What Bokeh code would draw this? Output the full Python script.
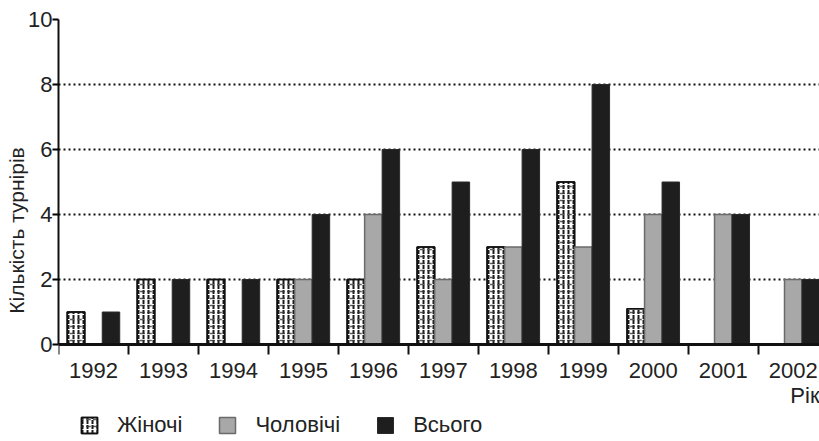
from bokeh.plotting import figure
from bokeh.models import FixedTicker, Legend, LegendItem, Label, ColumnDataSource, Range1d
from bokeh.transform import dodge
from bokeh.embed import file_html
from bokeh.resources import INLINE

years = ["1992", "1993", "1994", "1995", "1996", "1997", "1998", "1999", "2000", "2001", "2002"]
women = [1, 2, 2, 2, 2, 3, 3, 5, 1.1, 0, 0]
men = [0, 0, 0, 2, 4, 2, 3, 3, 4, 4, 2]
total = [1, 2, 2, 4, 6, 5, 6, 8, 5, 4, 2]
y_ticks = [0, 2, 4, 6, 8, 10]
series_names = ["Жіночі", "Чоловічі", "Всього"]
y_title = "Кількість турнірів"
x_title = "Рік"

idx = list(range(len(years)))
src = ColumnDataSource(dict(x=idx, women=women, men=men, total=total))

FONT = "Liberation Sans"
FS = "22px"
BW = 0.25
H = 441
TOP = 19
ZERO_PX = 344          # pixel row of y=0 inside the figure
unit = (ZERO_PX - TOP) / (y_ticks[-1] - y_ticks[0])
y_low = -(H - ZERO_PX) / unit

p = figure(width=819, height=H,
           x_range=Range1d(-0.5, len(years) - 1 + 1.5 * BW),
           y_range=Range1d(y_low, y_ticks[-1]),
           output_backend="svg", toolbar_location=None,
           min_border_left=58, min_border_top=TOP, min_border_right=0,
           min_border_bottom=0)
p.outline_line_color = None
p.background_fill_color = "white"

w1 = p.vbar(x=dodge("x", -BW, range=p.x_range), top="women", width=BW, source=src,
            fill_color="white", line_color="#111111", line_width=1.5,
            hatch_pattern="vertical_dash", hatch_color="#1a1a1a", hatch_scale=5, hatch_weight=2)
w2 = p.vbar(x=dodge("x", -BW, range=p.x_range), top="women", width=BW, source=src,
            fill_alpha=0, line_color="#111111", line_width=1.5,
            hatch_pattern="horizontal_dash", hatch_color="#333333", hatch_scale=7, hatch_weight=1.5,
            hatch_alpha=0.8)
m = p.vbar(x=dodge("x", 0, range=p.x_range), top="men", width=BW, source=src,
           fill_color="#a8a8a8", line_color="#6a6a6a", line_width=1.5)
t = p.vbar(x=dodge("x", BW, range=p.x_range), top="total", width=BW, source=src,
           fill_color="#1e1e1e", line_color="#2a2a2a", line_width=1)

# y axis
ya = p.yaxis[0]
ya.ticker = FixedTicker(ticks=y_ticks)
ya.bounds = (y_ticks[0], y_ticks[-1])
ya.axis_line_width = 2
ya.axis_line_color = "#111111"
ya.major_tick_out = 6
ya.major_tick_in = 0
ya.major_tick_line_width = 2
ya.minor_tick_line_color = None
ya.major_label_text_font = FONT
ya.major_label_text_font_size = FS
ya.major_label_text_color = "#222222"
ya.major_label_standoff = 0
ya.axis_label = y_title
ya.axis_label_text_font = FONT
ya.axis_label_text_font_size = "21px"
ya.axis_label_text_font_style = "normal"
ya.axis_label_text_color = "#222222"
ya.axis_label_standoff = -3

# x axis fixed at y = 0
xa = p.xaxis[0]
xa.fixed_location = 0
xa.ticker = FixedTicker(ticks=idx, minor_ticks=[i - 0.5 for i in idx])
xa.major_label_overrides = {i: y for i, y in zip(idx, years)}
xa.major_tick_line_color = None
xa.major_tick_out = 0
xa.major_tick_in = 0
xa.minor_tick_out = 10
xa.minor_tick_in = 0
xa.minor_tick_line_color = "#111111"
xa.minor_tick_line_width = 2
xa.axis_line_width = 3
xa.axis_line_color = "#111111"
xa.major_label_text_font = FONT
xa.major_label_text_font_size = FS
xa.major_label_text_color = "#222222"
xa.major_label_standoff = 8

p.xgrid.grid_line_color = None
p.ygrid.ticker = FixedTicker(ticks=y_ticks[1:])
p.ygrid.grid_line_color = "#111111"
p.ygrid.grid_line_width = 2
p.ygrid.grid_line_dash = "2 3"

p.add_layout(Label(x=len(years) - 1 + 1.5 * BW, y=-1.57, text=x_title, text_align="right",
                   text_baseline="middle", text_font=FONT, text_font_size=FS,
                   text_color="#222222"))

legend = Legend(items=[LegendItem(label=series_names[0], renderers=[w1, w2]),
                       LegendItem(label=series_names[1], renderers=[m]),
                       LegendItem(label=series_names[2], renderers=[t])],
                orientation="horizontal", glyph_width=20, glyph_height=20,
                label_text_font=FONT, label_text_font_size=FS, label_text_color="#222222",
                label_standoff=18, spacing=35, border_line_color=None,
                background_fill_alpha=0, padding=0, margin=0, location=(21, 3))
p.add_layout(legend, "center")

open("out.html", "w").write(file_html(p, INLINE))
